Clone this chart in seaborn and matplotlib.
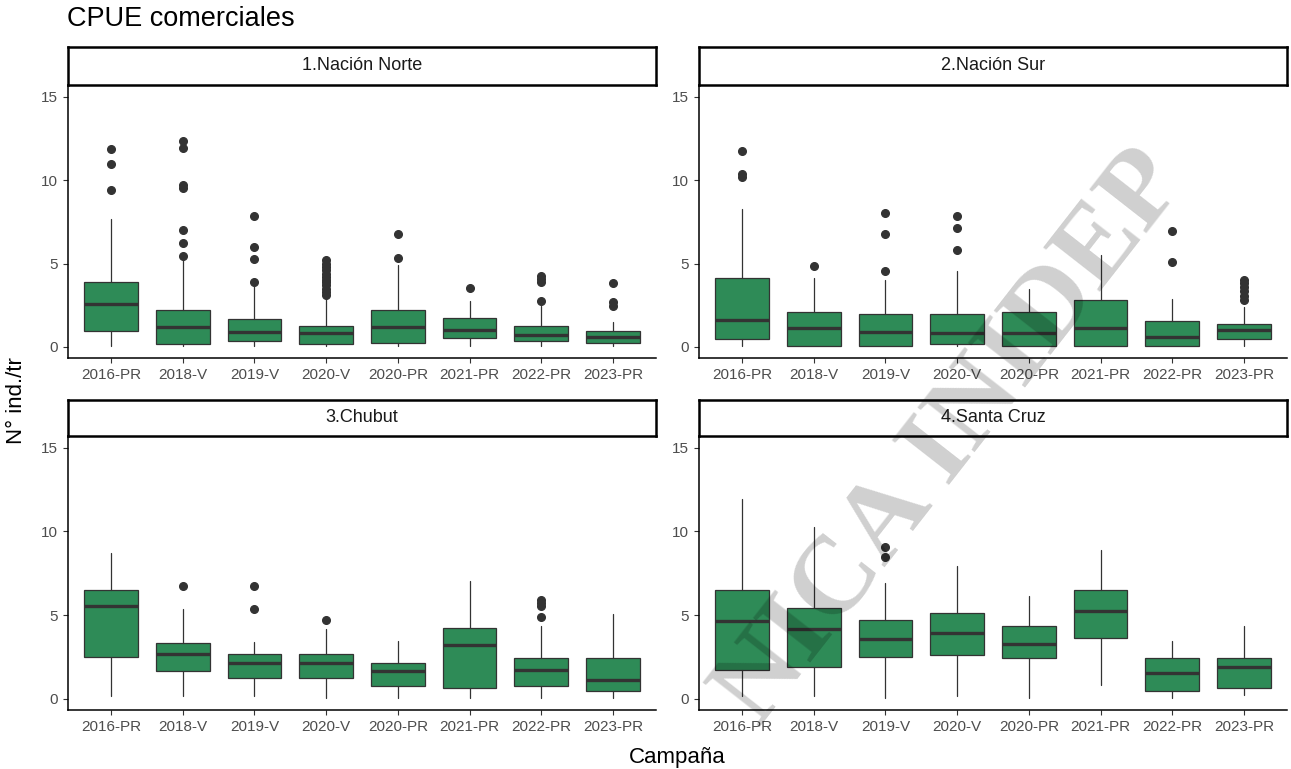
import matplotlib
matplotlib.use('Agg')
import matplotlib.pyplot as plt
import seaborn as sns

sns.set_theme(style="ticks")
plt.rcParams['font.family'] = ['Liberation Sans', 'DejaVu Sans']

campanas = ['2016-PR', '2018-V', '2019-V', '2020-V', '2020-PR', '2021-PR', '2022-PR', '2023-PR']
regiones = ['1.Nación Norte', '2.Nación Sur', '3.Chubut', '4.Santa Cruz']

# box stats: whisker low, q1, median, q3, whisker high
norte_lo = [0.06, 0.06, 0.06, 0.06, 0.06, 0.06, 0.06, 0.06]
norte_q1 = [0.96, 0.16, 0.36, 0.16, 0.26, 0.56, 0.36, 0.24]
norte_med = [2.57, 1.20, 0.92, 0.84, 1.20, 1.04, 0.72, 0.60]
norte_q3 = [3.92, 2.23, 1.67, 1.27, 2.23, 1.75, 1.27, 0.98]
norte_hi = [7.65, 5.40, 3.78, 2.97, 4.92, 2.77, 2.47, 1.47]
norte_out = [[9.38, 10.94, 11.85],
             [5.48, 6.24, 7.03, 9.5, 9.7, 11.9, 12.37],
             [3.92, 5.26, 5.98, 7.83],
             [3.1, 3.3, 3.5, 3.7, 3.9, 4.0, 4.2, 4.4, 4.6, 4.8, 5.0, 5.2],
             [5.36, 6.75],
             [3.51],
             [2.73, 3.88, 4.08, 4.28],
             [2.47, 2.67, 3.82]]

sur_lo = [0.06, 0.06, 0.06, 0.06, 0.06, 0.06, 0.06, 0.06]
sur_q1 = [0.46, 0.06, 0.06, 0.16, 0.06, 0.06, 0.06, 0.46]
sur_med = [1.61, 1.12, 0.92, 0.82, 0.82, 1.12, 0.62, 1.04]
sur_q3 = [4.12, 2.07, 1.95, 1.95, 2.07, 2.83, 1.57, 1.37]
sur_hi = [8.25, 4.12, 4.04, 4.54, 3.45, 5.52, 2.87, 2.37]
sur_out = [[10.2, 10.34, 11.77],
           [4.88],
           [4.58, 6.75, 8.03],
           [5.84, 7.13, 7.83],
           [],
           [],
           [5.08, 6.93],
           [2.81, 3.07, 3.33, 3.57, 3.82, 4.04]]

chubut_lo = [0.16, 0.16, 0.16, 0.06, 0.06, 0.06, 0.06, 0.06]
chubut_q1 = [2.53, 1.66, 1.26, 1.26, 0.75, 0.67, 0.75, 0.47]
chubut_med = [5.57, 2.69, 2.13, 2.13, 1.64, 3.20, 1.72, 1.13]
chubut_q3 = [6.52, 3.36, 2.67, 2.67, 2.17, 4.23, 2.45, 2.45]
chubut_hi = [8.72, 5.36, 3.38, 4.17, 3.48, 7.04, 4.37, 5.06]
chubut_out = [[], [6.72], [5.4, 6.72], [4.72], [], [], [4.92, 5.53, 5.73, 5.89], []]

scruz_lo = [0.16, 0.16, 0.06, 0.16, 0.06, 0.83, 0.06, 0.26]
scruz_q1 = [1.74, 1.92, 2.53, 2.65, 2.43, 3.62, 0.49, 0.67]
scruz_med = [4.68, 4.19, 3.60, 3.91, 3.30, 5.26, 1.52, 1.92]
scruz_q3 = [6.52, 5.43, 4.72, 5.12, 4.33, 6.52, 2.45, 2.45]
scruz_hi = [11.96, 10.28, 6.92, 7.91, 6.13, 8.91, 3.48, 4.35]
scruz_out = [[], [], [8.5, 9.07], [], [], [], [], []]

paneles = [
    (norte_lo, norte_q1, norte_med, norte_q3, norte_hi, norte_out),
    (sur_lo, sur_q1, sur_med, sur_q3, sur_hi, sur_out),
    (chubut_lo, chubut_q1, chubut_med, chubut_q3, chubut_hi, chubut_out),
    (scruz_lo, scruz_q1, scruz_med, scruz_q3, scruz_hi, scruz_out),
]

W, H = 1291, 769
fig = plt.figure(figsize=(W / 100, H / 100), dpi=100)

# pixel boxes (left, right, strip top, axes top, axes bottom)
cajas = [(68, 656, 47, 85, 358), (699, 1287, 47, 85, 358),
         (68, 656, 400, 436, 710), (699, 1287, 400, 436, 710)]

verde = '#2E8B57'
oscuro = '#333333'

for i, (reg, (lo, q1, med, q3, hi, out)) in enumerate(zip(regiones, paneles)):
    l, r, st, at, ab = cajas[i]
    ax = fig.add_axes([l / W, 1 - ab / H, (r - l) / W, (ab - at) / H])
    stats = []
    for j, c in enumerate(campanas):
        stats.append({'label': c, 'whislo': lo[j], 'q1': q1[j], 'med': med[j],
                      'q3': q3[j], 'whishi': hi[j], 'fliers': out[j]})
    ax.bxp(stats, positions=range(len(campanas)), widths=0.75, patch_artist=True,
           showcaps=False,
           boxprops=dict(facecolor=verde, edgecolor=oscuro, linewidth=0.9),
           medianprops=dict(color=oscuro, linewidth=2.4),
           whiskerprops=dict(color=oscuro, linewidth=0.9),
           flierprops=dict(marker='o', markerfacecolor=oscuro, markeredgecolor=oscuro,
                           markersize=5.5))
    ax.set_xlim(-0.6, 7.6)
    ax.set_ylim(-0.66, 15.7)
    ax.set_yticks([0, 5, 10, 15])
    ax.set_xticks(range(len(campanas)))
    ax.set_xticklabels(campanas)
    for s in ['top', 'right']:
        ax.spines[s].set_visible(False)
    for s in ['left', 'bottom']:
        ax.spines[s].set_color('black')
        ax.spines[s].set_linewidth(1.1)
    ax.tick_params(axis='both', colors='#333333', labelcolor='#4D4D4D',
                   labelsize=11, length=3.5, width=0.8, pad=4)
    ax.set_xlabel('')
    ax.set_ylabel('')

    sa = fig.add_axes([l / W, 1 - at / H, (r - l) / W, (at - st) / H])
    sa.set_xticks([])
    sa.set_yticks([])
    sa.set_facecolor('white')
    for s in sa.spines.values():
        s.set_color('black')
        s.set_linewidth(1.8)
    sa.text(0.5, 0.5, reg, ha='center', va='center', fontsize=13, color='#1A1A1A',
            transform=sa.transAxes)

fig.text(67 / W, 1 - 19 / H, 'CPUE comerciales', fontsize=19.5, color='black',
         ha='left', va='center')
fig.text(16 / W, 1 - 401 / H, 'N° ind./tr', fontsize=16, rotation=90,
         ha='center', va='center', color='black')
fig.text(677 / W, 1 - 757 / H, 'Campaña', fontsize=16, ha='center', va='center',
         color='black')

# watermark
fig.text(952 / W, 1 - 438 / H, 'NICA INIDEP', fontsize=80, fontweight='bold',
         family='Liberation Serif', rotation=52, color='black', alpha=0.19,
         ha='center', va='center', zorder=10)

fig.savefig('out.png', dpi=100)
